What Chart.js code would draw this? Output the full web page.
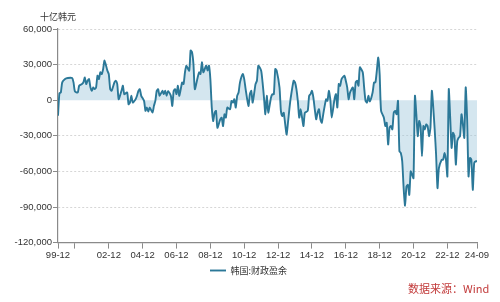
<!DOCTYPE html>
<html>
<head>
<meta charset="utf-8">
<script src="https://cdn.jsdelivr.net/npm/chart.js@4/dist/chart.umd.min.js"></script>
<style>
  body { margin: 0; background: #fff; }
  #wrap { position: relative; width: 500px; height: 302px; }
  #source {
    position: absolute; left: 408px; top: 280px;
    font: 11px 'Noto Sans CJK SC', sans-serif; color: #c23a3a;
  }
</style>
</head>
<body>
<div id="wrap">
  <canvas id="balanceChart" width="500" height="302"></canvas>
  <div id="source">数据来源：Wind</div>
</div>
<script>
// months counted from 1999-12 (0) to 2024-09 (297), values in 十亿韩元
const months = [
  0, 1, 2, 3, 5, 7, 10, 11, 12, 14, 15, 17, 18, 19, 20, 21, 22, 23, 24, 25,
  26, 27, 28, 29, 30, 31, 32, 33, 35, 36, 37, 38, 40, 41, 42, 43, 45, 46, 47, 49,
  50, 51, 52, 53, 55, 56, 57, 58, 59, 61, 62, 63, 64, 65, 67, 68, 69, 70, 71, 72,
  74, 75, 76, 77, 78, 80, 81, 82, 83, 84, 85, 86, 88, 89, 90, 91, 93, 94, 95, 96,
  97, 99, 100, 101, 102, 103, 105, 106, 107, 108, 109, 110, 111, 112, 113, 115, 116, 117, 118, 119,
  120, 122, 123, 124, 125, 126, 127, 128, 129, 131, 132, 133, 135, 136, 137, 138, 140, 141, 142, 144,
  145, 146, 147, 148, 149, 151, 152, 153, 154, 155, 157, 158, 159, 160, 162, 163, 164, 165, 167, 168,
  169, 170, 171, 172, 173, 174, 175, 177, 178, 179, 180, 181, 183, 184, 185, 186, 187, 188, 190, 191,
  192, 193, 194, 196, 197, 198, 199, 200, 201, 203, 204, 205, 206, 207, 209, 210, 211, 212, 213, 214,
  216, 217, 218, 219, 220, 221, 223, 224, 225, 226, 227, 228, 229, 231, 232, 233, 234, 235, 236, 237,
  238, 239, 240, 241, 242, 243, 244, 245, 246, 247, 248, 249, 250, 251, 252, 253, 254, 255, 256, 257,
  258, 259, 260, 261, 262, 263, 264, 265, 266, 267, 268, 269, 270, 272, 273, 274, 275, 276, 277, 278,
  279, 280, 281, 282, 283, 284, 285, 286, 287, 288, 289, 290, 291, 292, 293, 294, 295, 296, 297
];
const surplus = [
  -13000, 5700, 6500, 15000, 17800, 18700, 18700, 15000, 7400, 6500, 12200, 13600, 15000, 19200, 13600, 16400, 17800, 10800, 7900, 10800,
  9300, 10800, 20700, 17800, 23500, 22000, 26300, 33400, 24900, 22000, 9300, 7900, 15000, 16400, 13600, 850, 7900, 12200, 5100, 6500,
  -3400, -2000, 3700, -2000, 850, 3700, 7900, 9300, 3700, -570, -9000, -6200, -9600, -6200, -10500, -4800, -570, 7900, 9300, 3700,
  7900, 5100, 7900, 3700, 7900, 3700, -4800, 7900, 9300, 5100, 12200, 3700, 15000, 13600, 23500, 29100, 24900, 41900, 40500, 30600,
  9300, 19200, 23500, 22000, 32000, 23500, 29100, 24900, 29100, 17800, -6200, -17500, -10500, -9000, -23200, -16100, -14700, -21800, -11900, -14700,
  -6200, -7600, -570, -2000, 850, -6200, 3700, 6500, 15000, 22000, 17800, 9300, -4800, 5100, 7900, -2000, 13600, 16400, 29100, 24900,
  15000, 2300, -11900, 3700, -10500, 2300, 5100, 5100, 26300, 24900, 10800, -9000, -13300, -10500, -28900, -19000, -7600, 2300, 16400, 15000,
  9300, -570, -14700, -7600, -14700, -21800, -10500, -9000, 3700, 5100, 7900, 2300, -16100, -10500, -7600, -16100, -19000, -11900, 850, -570,
  7900, 850, -14700, 850, 5100, -6200, 13600, 12200, 17800, 20700, 16400, 10800, 850, 6500, 10800, 850, 15000, 16400, 12200, 27700,
  23500, 10800, -570, -2000, 3700, -1000, 6500, 15000, 15000, 24900, 36000, 22000, -9000, -14700, -21800, -19000, -37400, -23200, -21800, -24600,
  -10500, -9000, -11900, -570, -43000, -44400, -51500, -74100, -88900, -72700, -71300, -79800, -60000, -62800, -65700, 3700, -11900, -30300, -17500, -21800,
  -47300, -21800, -24600, -20400, -21800, -30300, -23200, 7900, -6200, -24600, -45800, -74100, -57200, -50100, -50100, -44400, -50100, -64200, 9300, -14700,
  -40200, -27500, -30300, -54300, -34500, -31700, -30300, -11900, -20400, -31700, 10800, -16100, -64200, -48700, -50000, -75600, -52900, -51500, -51500
];
const tickMonths = [0, 12, 36, 60, 84, 108, 132, 156, 180, 204, 228, 252, 276, 297];
const tickLabels = ['99-12', '', '02-12', '04-12', '06-12', '08-12', '10-12', '12-12', '14-12', '16-12', '18-12', '20-12', '22-12', '24-09'];
const seriesName = '韩国:财政盈余';
const unitLabel = '十亿韩元';

const latinFont = "'Liberation Sans', Arial, 'Noto Sans CJK SC', sans-serif";
const cjkFont = "'Noto Sans CJK SC', sans-serif";

// unit text above the y axis, and nudge the legend to the middle of the page
const unitTitle = {
    id: 'unitTitle',
    afterLayout(chart) {
        chart.legend.left += 4;
        chart.legend.right += 4;
    },
    afterDraw(chart) {
        const ctx = chart.ctx;
        ctx.save();
        ctx.font = '9px ' + cjkFont;
        ctx.fillStyle = '#333';
        ctx.textBaseline = 'middle';
        ctx.fillText(unitLabel, chart.chartArea.left - 18, chart.chartArea.top - 12);
        ctx.restore();
    }
};

const balanceChart = new Chart(document.getElementById('balanceChart'), {
    type: 'line',
    data: {
        datasets: [{
            label: seriesName,
            data: months.map((m, i) => ({ x: m, y: surplus[i] })),
            borderColor: '#2b7898',
            borderWidth: 1.9,
            backgroundColor: 'rgba(160, 200, 220, 0.45)',
            fill: 'origin',
            pointRadius: 0,
            tension: 0.2
        }]
    },
    options: {
        responsive: false,
        animation: false,
        // y labels are clipped to the scale box, so keep its left edge under the widest label
        layout: { padding: { top: 29, right: 23, bottom: 17, left: 12 } },
        scales: {
            x: {
                type: 'linear',
                min: 0,
                max: 297,
                afterBuildTicks: (axis) => { axis.ticks = tickMonths.map(v => ({ value: v })); },
                grid: { drawOnChartArea: false, drawTicks: true, tickLength: 6, color: '#8a8a8a' },
                border: { display: true, color: '#8a8a8a', width: 1.2 },
                ticks: {
                    autoSkip: false,
                    maxRotation: 0,
                    padding: 1,
                    color: '#333',
                    font: { family: latinFont, size: 9.5 },
                    callback: (value) => tickLabels[tickMonths.indexOf(value)]
                }
            },
            y: {
                min: -120000,
                max: 60000,
                afterFit: (scale) => { scale.width = 46; },
                grid: {
                    color: (ctx) => (ctx.tick && ctx.tick.value === 0) ? 'rgba(0,0,0,0)' : '#d6d6d6',
                    tickColor: '#8a8a8a',
                    tickBorderDash: [],
                    tickLength: 5
                },
                border: { display: true, color: '#8a8a8a', width: 1.2, dash: [2, 2] },
                ticks: {
                    stepSize: 30000,
                    padding: 1,
                    color: '#333',
                    font: { family: latinFont, size: 9.5 }
                }
            }
        },
        plugins: {
            legend: {
                position: 'bottom',
                labels: {
                    usePointStyle: true,
                    pointStyle: 'line',
                    pointStyleWidth: 16,
                    boxWidth: 16,
                    padding: 4,
                    color: '#333',
                    font: { family: cjkFont, size: 9 }
                }
            },
            tooltip: { enabled: false }
        }
    },
    plugins: [unitTitle]
});
</script>
</body>
</html>
